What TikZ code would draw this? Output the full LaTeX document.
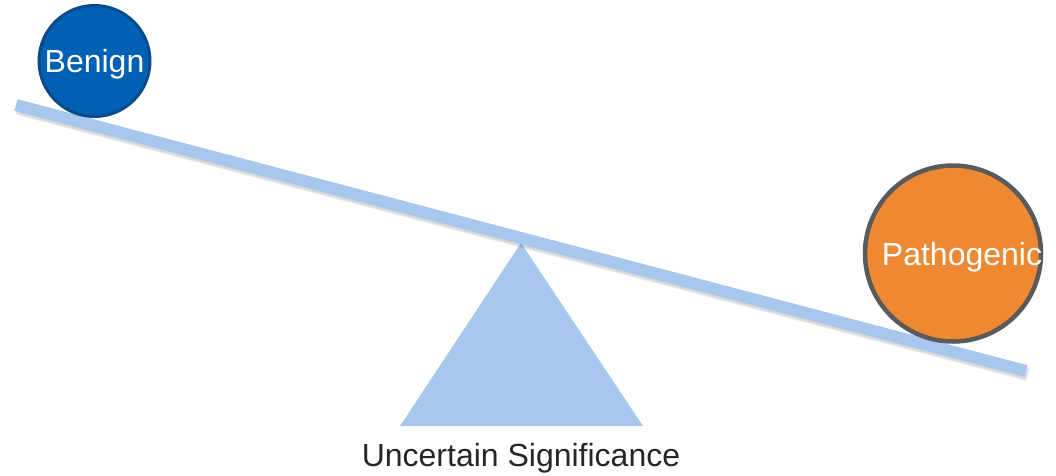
\documentclass[tikz,border=0pt]{standalone}
\usepackage{fontspec}
\setmainfont{Liberation Sans}
\definecolor{barblue}{HTML}{A7C8EC}
\definecolor{benignfill}{HTML}{0060B4}
\definecolor{benignedge}{HTML}{0A4A8C}
\definecolor{pathfill}{HTML}{EF8833}
\definecolor{pathedge}{HTML}{5A5A5A}
\definecolor{labelgray}{HTML}{262626}
\tikzset{
  ball/.style={circle, inner sep=0pt, text=white, font=\fontsize{32}{38}\selectfont},
  plank/.style={draw=barblue, line width=12pt, line cap=butt},
  plankshadow/.style={draw=black, opacity=0.08, line width=12pt, line cap=butt},
}
\begin{document}
\begin{tikzpicture}[x=1pt,y=-1pt]
\useasboundingbox (0,0) rectangle (1056,475);
% fulcrum
\coordinate (apex) at (521,243);
\coordinate (bl) at (400,426);
\coordinate (br) at (643,426);
\fill[barblue] (apex) -- (bl) -- (br) -- cycle;
% plank
\coordinate (pl) at (16,105);
\coordinate (pr) at (1026,371);
\coordinate (sl) at (17,107.5);
\coordinate (sr) at (1027,373.5);
\coordinate (tl) at (18,109);
\coordinate (tr) at (1028,375);
\draw[plankshadow] (sl) -- (sr);
\draw[plankshadow] (tl) -- (tr);
\draw[plank] (pl) -- (pr);
% balls
\node[ball, minimum size=111pt, fill=benignfill, draw=benignedge, line width=3pt] (benign) at (94.5,61) {};
\node[font=\fontsize{32}{38}\selectfont, text=white] (benignlabel) at (94.5,64) {Benign};
\node[ball, minimum size=176pt, fill=pathfill, draw=pathedge, line width=4.5pt] (patho) at (953,253.5) {};
\node[font=\fontsize{32}{38}\selectfont, text=white] (patholabel) at (962,257) {Pathogenic};
% label
\node[font=\fontsize{32}{38}\selectfont, text=labelgray] (unc) at (521,458) {Uncertain Significance};
\end{tikzpicture}
\end{document}
